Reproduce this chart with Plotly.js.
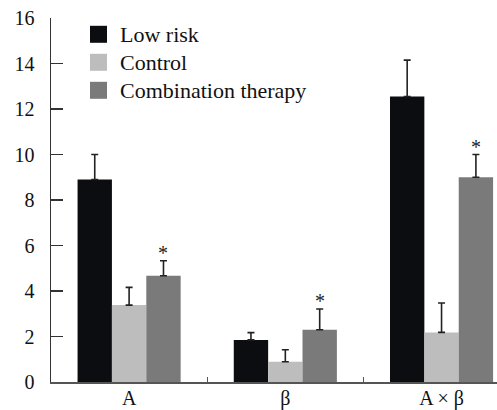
<!DOCTYPE html>
<html>
<head>
<meta charset="utf-8">
<script src="https://cdn.plot.ly/plotly-3.0.1.min.js"></script>
<style>html,body{margin:0;padding:0;background:#fff}#chart{width:497px;height:410px}</style>
</head>
<body>
<div id="chart"></div>
<script>
const categories = ["A", "β", "A × β"];
const seriesNames = ["Low risk", "Control", "Combination therapy"];
const lowRisk = [8.9, 1.85, 12.55];
const lowRiskErr = [1.1, 0.32, 1.6];
const control = [3.38, 0.89, 2.18];
const controlErr = [0.78, 0.53, 1.29];
const combination = [4.67, 2.3, 9.0];
const combinationErr = [0.66, 0.91, 1.0];
const significant = [true, true, true];
const colors = ["#0b0d11", "#bdbdbd", "#7a7a7a"];

const values = [lowRisk, control, combination];
const errs = [lowRiskErr, controlErr, combinationErr];
const FONT = "Times New Roman, Liberation Serif, Tinos, DejaVu Serif, serif";

const traces = values.map((v, i) => ({
  type: "bar",
  name: seriesNames[i],
  x: categories,
  y: v,
  marker: {color: colors[i], line: {width: 0}},
  error_y: {type: "data", symmetric: false, array: errs[i], arrayminus: v.map(() => 0),
            color: "#222", thickness: 1.6, width: 3.5},
  showlegend: false,
  hoverinfo: "skip"
}));

const bargap = 0.34;
const barW = (1 - bargap) / 3;
const annotations = [];
categories.forEach((c, j) => {
  if (significant[j]) {
    annotations.push({
      xref: "x", yref: "y", x: j + barW, y: combination[j] + combinationErr[j],
      text: "*", showarrow: false, yanchor: "bottom", yshift: -5,
      font: {family: FONT, size: 20, color: "#222"}
    });
  }
});

// custom legend
const shapes = [];
const legX0 = 90, legY0 = 34.3, legStep = 28, sq = 17;
const W = 497;
seriesNames.forEach((n, i) => {
  const cy = legY0 + i * legStep;
  shapes.push({type: "rect", xref: "paper", yref: "paper",
    x0: (legX0 - 51) / (W - 51), x1: (legX0 + sq - 51) / (W - 51),
    y0: 1 - (cy + sq / 2 - 18) / 364, y1: 1 - (cy - sq / 2 - 18) / 364,
    fillcolor: colors[i], line: {width: 0}});
  annotations.push({xref: "paper", yref: "paper",
    x: (legX0 + sq + 11 - 51) / (W - 51), y: 1 - (cy - 18) / 364,
    xanchor: "left", yanchor: "middle", showarrow: false, text: n,
    font: {family: FONT, size: 22, color: "#111"}});
});

const layout = {
  width: 497, height: 410,
  margin: {l: 51, r: 0, t: 18, b: 28, pad: 0},
  paper_bgcolor: "#fff", plot_bgcolor: "#fff",
  barmode: "group", bargap: bargap, bargroupgap: 0,
  font: {family: FONT, size: 20, color: "#111"},
  xaxis: {type: "category", range: [-0.5, 2.355], showgrid: false, zeroline: false,
          showline: true, linecolor: "#555", linewidth: 1.5,
          ticks: "inside", tickson: "boundaries", ticklen: 5, tickcolor: "#555", tickwidth: 1,
          ticklabelstandoff: -3, tickfont: {family: FONT, size: 20}, fixedrange: true},
  yaxis: {range: [0, 16], dtick: 2, showgrid: false, zeroline: false,
          showline: true, linecolor: "#333", linewidth: 1.5,
          ticks: "inside", ticklen: 12, tickcolor: "#333", tickwidth: 1.5,
          ticklabelstandoff: 11, tickfont: {family: FONT, size: 20}, fixedrange: true},
  shapes: shapes,
  annotations: annotations,
  showlegend: false
};

Plotly.newPlot("chart", traces, layout, {displayModeBar: false, staticPlot: true});
</script>
</body>
</html>
